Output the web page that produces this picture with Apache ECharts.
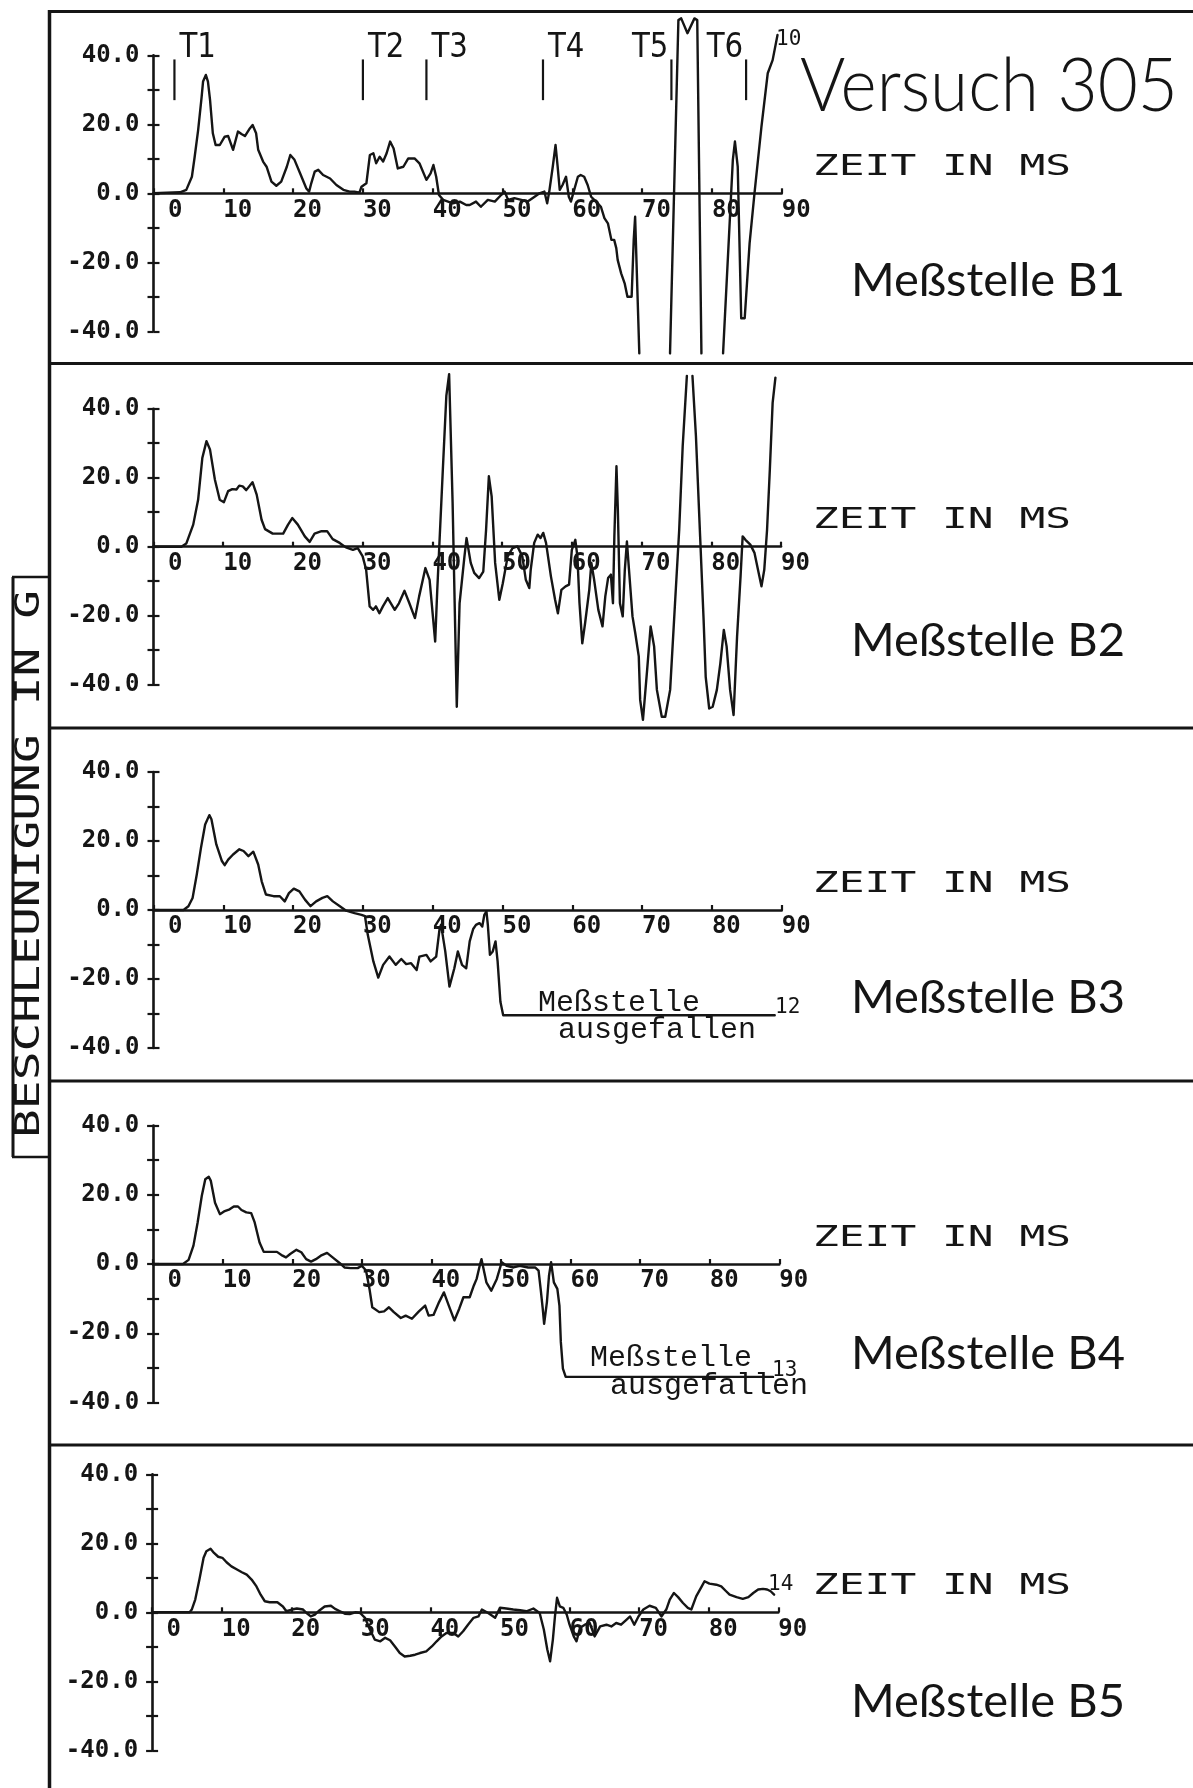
<!DOCTYPE html>
<html>
<head>
<meta charset="utf-8">
<title>Versuch 305 – Beschleunigung B1–B5</title>
<script src="https://cdn.jsdelivr.net/npm/echarts@6/dist/echarts.min.js"></script>
<style>
  html, body { margin: 0; padding: 0; background: #ffffff; }
  #chart { width: 1193px; height: 1788px; }
</style>
</head>
<body>
<div id="chart"></div>
<script>
// ---- axis ticks -------------------------------------------------------
const timeTicks = [0, 10, 20, 30, 40, 50, 60, 70, 80, 90];      // ms
const accelTicks = [-40, -20, 0, 20, 40];                        // g (labelled)

// ---- measuring points ------------------------------------------------
const stations = ['B1', 'B2', 'B3', 'B4', 'B5'];
const curveNumbers = ['10', '', '12', '13', '14'];
const failedStations = ['B3', 'B4'];

// ---- event marks on B1 -------------------------------------------------
const eventNames = ['T1', 'T2', 'T3', 'T4', 'T5', 'T6'];
const eventTimes = [3.0, 30.0, 39.1, 55.8, 74.2, 84.9];

// ---- traces: [time in ms, acceleration in g]; null = trace leaves the plot
const traceB1 = [
  [0,0],[3.8,0.3],[4.7,1.0],[5.5,4.8],[5.9,10.6],[6.4,18.4],[6.9,28.0],[7.1,32.4],[7.5,34.3],[7.8,32.4],
  [8.1,27.1],[8.5,17.4],[8.9,14.0],[9.5,14.0],[10.2,16.4],[10.7,16.6],[11.4,12.6],[12.1,17.9],[12.6,17.2],
  [13.1,16.6],[13.8,18.8],[14.2,19.8],[14.7,17.4],[15.0,12.6],[15.7,9.2],[16.2,7.7],[16.9,3.4],[17.6,2.2],
  [18.3,3.4],[19.1,7.7],[19.6,11.1],[20.2,9.7],[21.0,5.8],[21.9,1.4],[22.3,0.5],[22.6,2.9],[23.1,6.3],
  [23.6,6.8],[24.3,5.3],[25.3,4.3],[26.2,2.4],[27.2,1.0],[28.1,0.5],[28.8,0.5],[29.5,0.2],[29.8,1.9],
  [30.5,2.9],[31.0,11.1],[31.5,11.6],[31.9,8.7],[32.4,10.6],[32.9,9.2],[33.4,11.6],[33.9,15.0],[34.4,13.0],
  [35.0,7.2],[35.8,7.7],[36.5,10.1],[37.4,10.1],[38.1,8.7],[39.1,3.9],[39.7,5.8],[40.1,8.2],[40.5,4.8],
  [40.9,-0.5],[41.5,-1.9],[42.9,-2.9],[43.9,-2.4],[44.8,-3.4],[45.3,-3.4],[46.2,-2.4],[46.9,-3.9],[47.9,-1.9],
  [48.9,-2.4],[49.8,-0.5],[50.3,0.5],[50.8,-1.9],[51.7,-1.4],[52.7,-1.9],[53.6,-2.4],[54.6,-1.0],[55.3,0],
  [56.0,0.5],[56.4,-2.9],[56.7,0.5],[57.2,7.7],[57.6,14.0],[57.9,7.7],[58.2,1.0],[58.6,2.4],[59.1,4.8],
  [59.5,-1.0],[59.8,-2.4],[60.2,0.5],[60.4,1.0],[60.8,4.8],[61.2,5.3],[61.7,4.8],[62.2,2.4],[62.7,-1.0],
  [63.4,-2.4],[64.1,-3.9],[64.6,-7.2],[65.1,-8.7],[65.6,-13.5],[66.0,-13.5],[66.3,-15.9],[66.5,-19.3],
  [67.0,-23.2],[67.5,-26.1],[67.9,-30.0],[68.5,-30.0],[68.8,-13.5],[69.0,-6.8],[69.6,-46.4],[71.5,null],
  [74.0,-46.4],[75.2,50.2],[75.6,50.7],[76.5,46.4],[77.5,50.7],[77.9,50.2],[78.5,-46.4],[80.0,null],
  [81.6,-46.4],[83.0,9.7],[83.3,15.0],[83.7,7.7],[84.2,-36.2],[84.7,-36.2],[85.4,-14.5],[86.1,0],
  [87.1,19.3],[88.0,34.8],[88.7,38.6],[89.4,45.9]
];

const traceB2 = [
  [0,0],[4.0,0],[4.7,0.9],[5.7,6.4],[6.4,13.6],[7.0,25.7],[7.6,30.6],[8.1,28.2],[8.8,19.5],[9.5,13.6],
  [10.1,12.9],[10.7,16.1],[11.3,16.7],[11.9,16.6],[12.3,17.7],[12.8,17.5],[13.3,16.4],[14.2,18.7],[14.8,15.1],
  [15.5,7.8],[16.0,5.1],[17.1,3.8],[18.6,3.8],[19.3,6.4],[19.9,8.3],[20.7,6.4],[21.7,3.0],[22.4,1.4],
  [23.1,3.8],[24.1,4.5],[24.9,4.5],[25.7,2.2],[26.7,1.1],[27.6,-0.2],[28.6,-0.9],[29.3,-0.4],[30.0,-2.8],
  [30.5,-6.7],[31.0,-17.3],[31.5,-18.3],[31.9,-17.3],[32.4,-19.3],[32.9,-17.3],[33.6,-14.9],[34.6,-18.3],
  [35.2,-16.4],[36.0,-12.8],[36.7,-16.4],[37.5,-20.7],[38.1,-14.4],[39.0,-6.2],[39.6,-9.6],[40.4,-27.5],
  [40.7,-12.5],[41.5,22.4],[42.0,43.7],[42.4,50.0],[42.9,12.7],[43.5,-46.4],[43.9,-16.4],[44.6,-2.8],
  [44.9,2.5],[45.5,-4.7],[46.0,-7.6],[46.7,-9.1],[47.3,-7.2],[47.7,4.9],[48.1,20.4],[48.5,14.6],[49.0,-4.7],
  [49.6,-15.4],[50.1,-10.6],[50.8,-2.8],[51.5,-0.4],[52.2,0.1],[52.9,-2.8],[53.4,-9.6],[53.9,-12.0],
  [54.1,-6.7],[54.6,1.1],[55.1,3.5],[55.5,2.5],[55.9,4.0],[56.3,1.1],[57.0,-8.6],[57.6,-15.4],[58.0,-19.3],
  [58.5,-12.5],[59.1,-11.5],[59.6,-11.0],[60.0,-0.9],[60.5,2.0],[60.8,-2.8],[61.1,-16.4],[61.5,-28.0],
  [61.9,-22.2],[62.5,-12.5],[62.8,-4.7],[63.2,-9.6],[63.8,-18.3],[64.4,-23.1],[64.8,-14.4],[65.2,-9.1],
  [65.6,-8.1],[65.9,-16.4],[66.1,3.0],[66.4,23.3],[66.6,10.7],[66.9,-16.4],[67.3,-20.2],[67.6,-6.7],
  [67.9,1.5],[68.2,-6.7],[68.7,-20.2],[69.1,-25.1],[69.6,-31.8],[69.8,-44.4],[70.2,-50.2],[70.8,-35.7],
  [71.3,-23.1],[71.8,-28.9],[72.2,-41.5],[72.9,-49.3],[73.4,-49.3],[74.1,-41.5],[74.8,-16.4],[75.4,4.9],
  [75.9,29.1],[76.5,49.5],[76.9,null],[77.3,49.5],[77.8,32.0],[78.4,3.0],[78.9,-21.2],[79.2,-37.7],
  [79.7,-46.9],[80.2,-46.4],[80.8,-41.5],[81.3,-33.8],[81.8,-24.1],[82.2,-28.9],[82.7,-41.5],[83.2,-48.8],
  [83.7,-26.0],[84.2,-8.6],[84.5,3.0],[84.9,2.0],[85.6,0.6],[86.2,-1.8],[86.7,-6.7],[87.2,-11.5],
  [87.6,-6.7],[88.0,4.9],[88.4,22.4],[88.8,41.7],[89.2,49.0]
];

const traceB3 = [
  [0,0],[4.3,0],[5.0,1.1],[5.6,3.5],[6.2,10.3],[6.8,18.0],[7.4,24.8],[8.0,27.5],[8.3,26.3],[9.0,19.0],
  [9.8,14.2],[10.2,13.0],[10.7,14.6],[11.4,16.1],[12.3,17.6],[12.9,17.1],[13.6,15.6],[14.3,16.9],[15.0,13.2],
  [15.5,8.3],[16.1,4.5],[17.2,4.0],[18.1,4.0],[18.8,2.5],[19.4,4.9],[20.1,6.2],[20.9,5.4],[21.7,3.0],
  [22.5,1.1],[23.3,2.5],[24.2,3.5],[24.9,4.0],[25.7,2.5],[26.7,1.1],[27.6,-0.2],[28.8,-0.9],[29.8,-1.4],
  [30.3,-1.8],[30.7,-7.2],[31.5,-14.9],[32.2,-19.6],[32.9,-15.9],[33.8,-13.5],[34.7,-15.9],[35.5,-14.2],
  [36.2,-15.7],[36.9,-15.4],[37.7,-17.4],[38.1,-13.5],[39.1,-13.0],[39.7,-14.9],[40.5,-13.5],[41.0,-5.2],
  [41.2,-4.3],[41.8,-12.0],[42.4,-22.2],[43.1,-16.9],[43.6,-12.0],[44.2,-15.9],[44.8,-16.9],[45.3,-9.1],
  [45.8,-5.5],[46.2,-4.3],[46.7,-3.8],[47.1,-4.8],[47.4,-1.4],[47.7,-0.4],[47.9,-4.3],[48.2,-13.0],
  [48.6,-12.0],[49.0,-9.1],[49.3,-14.9],[49.7,-26.6],[50.1,-30.5],[89.0,-30.5]
];

const traceB4 = [
  [0,0],[4.3,0],[5.1,1.2],[5.8,5.3],[6.4,12.0],[7.0,19.7],[7.5,24.5],[8.0,25.2],[8.3,24.0],[8.9,17.7],
  [9.6,14.4],[10.3,15.3],[11.0,15.8],[11.6,16.6],[12.2,16.6],[12.7,15.6],[13.4,14.9],[14.1,14.7],[14.6,12.0],
  [15.3,6.2],[15.9,3.5],[16.8,3.5],[17.8,3.5],[18.6,2.4],[19.1,1.9],[19.7,2.9],[20.6,4.1],[21.3,3.4],
  [22.0,1.4],[22.7,0.7],[23.4,1.4],[24.1,2.4],[25.0,3.2],[25.8,1.9],[26.8,0.3],[27.5,-1.0],[28.4,-1.2],
  [29.4,-1.2],[30.0,-0.5],[30.6,-1.9],[31.1,-7.2],[31.5,-12.5],[32.5,-13.9],[33.2,-13.7],[33.9,-12.5],
  [34.6,-13.9],[35.6,-15.6],[36.3,-14.9],[37.2,-15.8],[38.2,-13.7],[39.1,-12.0],[39.6,-14.9],[40.3,-14.7],
  [41.1,-11.0],[41.8,-8.2],[42.5,-12.0],[43.3,-16.3],[44.0,-12.9],[44.6,-9.6],[45.5,-9.6],[46.1,-6.2],
  [46.5,-4.3],[47.0,0],[47.2,1.4],[47.9,-5.3],[48.6,-7.7],[49.4,-4.3],[50.1,0.5],[50.8,-0.5],[51.8,-1.0],
  [52.7,-0.5],[53.9,-1.0],[54.9,-1.0],[55.4,-1.9],[55.7,-7.2],[56.0,-12.9],[56.2,-17.3],[56.6,-11.0],
  [56.9,-3.4],[57.2,0.5],[57.6,-5.3],[58.1,-7.2],[58.4,-12.0],[58.6,-22.5],[58.9,-30.2],[59.3,-32.6],
  [89.1,-32.6]
];

const traceB5 = [
  [0,0],[5.4,0],[5.7,0.8],[6.2,3.7],[6.8,9.5],[7.4,15.8],[7.8,17.7],[8.4,18.4],[8.9,17.2],[9.5,16.1],
  [10.1,15.8],[10.7,14.5],[11.4,13.3],[12.2,12.4],[12.9,11.6],[13.6,10.9],[14.3,9.5],[15.0,7.5],[15.6,5.1],
  [16.2,3.2],[16.9,2.9],[18.0,2.9],[18.8,1.7],[19.3,0.3],[20.1,0.8],[20.8,1.1],[21.7,0.8],[22.2,-0.2],
  [22.8,-1.2],[23.4,-0.7],[23.9,0.3],[24.8,1.7],[25.7,1.9],[26.3,1.0],[27.0,0.3],[27.7,-0.4],[28.4,-0.5],
  [29.2,0],[29.9,-0.2],[30.6,-1.6],[31.3,-5.0],[32.0,-7.9],[32.8,-8.4],[33.5,-7.4],[34.2,-8.1],[34.9,-9.9],
  [35.6,-11.8],[36.3,-12.8],[37.1,-12.6],[37.8,-12.3],[38.5,-11.8],[39.4,-11.3],[40.2,-9.9],[40.9,-8.4],
  [41.6,-7.0],[42.3,-6.0],[43.3,-6.0],[44.0,-7.0],[44.7,-5.5],[45.4,-3.6],[46.2,-1.6],[46.9,-1.2],
  [47.4,0.8],[48.3,-0.2],[49.3,-1.6],[50.0,1.3],[50.9,1.1],[51.9,0.8],[52.9,0.6],[53.8,0.3],[54.8,1.1],
  [55.7,-0.2],[56.3,-5.0],[56.8,-10.8],[57.2,-14.2],[57.6,-7.9],[57.9,-1.2],[58.2,4.2],[58.6,1.7],
  [59.1,1.3],[59.6,-0.7],[60.0,-3.6],[60.6,-7.0],[61.0,-8.4],[61.5,-4.5],[62.2,-3.6],[62.9,-3.1],
  [63.6,-7.0],[64.4,-4.1],[65.3,-3.6],[66.0,-4.1],[66.7,-3.1],[67.4,-3.6],[68.2,-2.1],[68.7,-1.2],
  [69.3,-3.6],[69.9,-1.2],[70.6,0.8],[71.5,1.9],[72.4,1.3],[73.2,-1.2],[73.9,0.8],[74.4,3.7],[75.0,5.6],
  [75.6,4.4],[76.3,2.7],[77.0,1.3],[77.5,0.8],[78.2,4.6],[79.0,7.5],[79.4,9.0],[80.1,8.3],[81.1,8.0],
  [81.8,7.5],[82.5,6.1],[83.0,5.1],[84.0,4.4],[84.9,3.9],[85.7,4.4],[86.4,5.6],[87.1,6.6],[87.8,6.8],
  [88.4,6.6],[88.9,6.1],[89.4,5.1]
];

const traces = [traceB1, traceB2, traceB3, traceB4, traceB5];

// ---- page layout ------------------------------------------------------
const INK = '#151515';
const panels = [
  { left: 153.5, top: 55.3,   width: 628.2, height: 276, zeitY: 167,  nameY: 281 },
  { left: 153.5, top: 408.7,  width: 627.5, height: 276, zeitY: 520,  nameY: 641 },
  { left: 153.5, top: 772,    width: 628.2, height: 276, zeitY: 884,  nameY: 998 },
  { left: 153.1, top: 1125.5, width: 626.2, height: 277, zeitY: 1238, nameY: 1354 },
  { left: 152.1, top: 1474.3, width: 626.2, height: 276, zeitY: 1586, nameY: 1702 }
];
const separators = [11.5, 363.5, 728, 1081, 1445];

// text-width helper, used to stretch the plotter lettering to its pitch
const measureCtx = document.createElement('canvas').getContext('2d');
function stretch(text, font, target) {
  measureCtx.font = font;
  return target / measureCtx.measureText(text).width;
}

const tickFont = { fontFamily: 'DejaVu Sans Mono', fontSize: 24, fontWeight: 'bold', color: INK };

const grid = [], xAxis = [], yAxis = [], series = [];
panels.forEach((p, i) => {
  grid.push({ left: p.left, top: p.top, width: p.width, height: p.height });
  // the time axis runs through g = 0, i.e. half the (symmetric) plot height above the bottom edge
  xAxis.push({
    gridIndex: i, type: 'value', min: timeTicks[0], max: timeTicks[timeTicks.length - 1], interval: 10,
    position: 'bottom', offset: -p.height / 2,
    axisLine: { show: true, onZero: false, lineStyle: { color: INK, width: 2.6 } },
    axisTick: { show: true, inside: true, length: 5, lineStyle: { color: INK, width: 2.2 } },
    axisLabel: Object.assign({
      show: true, margin: 5, align: 'left', showMinLabel: true, showMaxLabel: true,
      formatter: v => timeTicks.includes(v) ? (v < 10 ? ' ' + v : String(v)) : ''
    }, tickFont),
    splitLine: { show: false }
  });
  // labelled axis, ticks on the outside
  yAxis.push({
    gridIndex: i, type: 'value', min: -40, max: 40, interval: 10, position: 'left',
    axisLine: { show: true, onZero: false, lineStyle: { color: INK, width: 2.6 } },
    axisTick: { show: true, inside: false, length: 6, lineStyle: { color: INK, width: 2.2 } },
    axisLabel: Object.assign({
      show: true, margin: 14,
      formatter: v => accelTicks.includes(v) ? v.toFixed(1) : ''
    }, tickFont),
    splitLine: { show: false }
  });
  // companion axis: the inner half of each tick
  yAxis.push({
    gridIndex: i, type: 'value', min: -40, max: 40, interval: 10, position: 'left',
    axisLine: { show: false, onZero: false },
    axisTick: { show: true, inside: true, length: 6, lineStyle: { color: INK, width: 2.2 } },
    axisLabel: { show: false },
    splitLine: { show: false }
  });
  series.push({
    type: 'line', name: 'Meßstelle ' + stations[i], xAxisIndex: i, yAxisIndex: 2 * i,
    data: traces[i], showSymbol: false, symbol: 'none', clip: false, connectNulls: false,
    lineStyle: { color: INK, width: 2.4, join: 'round', cap: 'round' },
    animation: false, silent: true
  });
});

// event marks T1..T6 above the B1 trace
const leftLabelled = { T5: true, T6: true };
series.push({
  type: 'custom', xAxisIndex: 0, yAxisIndex: 0, clip: false, silent: true, animation: false,
  data: eventTimes.map((t, k) => [t, k]),
  renderItem: (params, api) => {
    const t = api.value(0), name = eventNames[api.value(1)];
    const top = api.coord([t, 38.8]);
    const bot = api.coord([t, 27]);
    const onLeft = !!leftLabelled[name];
    return {
      type: 'group',
      children: [
        { type: 'line', shape: { x1: top[0], y1: top[1], x2: bot[0], y2: bot[1] },
          style: { stroke: INK, lineWidth: 2.2 } },
        { type: 'text', x: top[0] + (onLeft ? -3 : 5), y: top[1] + 6, scaleX: 0.86,
          style: { text: name, font: '34px "DejaVu Sans"', fill: INK,
                   textAlign: onLeft ? 'right' : 'left', textVerticalAlign: 'bottom' } }
      ]
    };
  }
});

// ---- frame, captions and annotations ------------------------------------
const graphic = [];
const ln = (x1, y1, x2, y2, w) => graphic.push({
  type: 'line', silent: true, shape: { x1, y1, x2, y2 }, style: { stroke: INK, lineWidth: w }
});
ln(49.5, 10, 49.5, 1788, 3.5);
separators.forEach(y => ln(48, y, 1193, y, 3));
// box around the vertical axis title
ln(13, 577, 13, 1157, 3);
ln(12, 577, 50, 577, 2.5);
ln(12, 1157, 50, 1157, 2.5);

const text = (str, x, y, font, opts) => graphic.push(Object.assign({
  type: 'text', x, y, silent: true,
  style: { text: str, font, fill: INK, textAlign: 'left', textVerticalAlign: 'middle' }
}, opts || {}));

const yTitle = 'BESCHLEUNIGUNG IN G';
const yTitleFont = '33px "DejaVu Sans Mono"';
graphic.push({
  type: 'text', x: 30, y: 864, rotation: Math.PI / 2, silent: true,
  scaleX: stretch(yTitle, yTitleFont, 548),
  style: { text: yTitle, font: yTitleFont, fill: INK, textAlign: 'center', textVerticalAlign: 'middle' }
});

const titleFont = '300 75px Lato';
text('Versuch 305', 800, 87, titleFont, { scaleX: stretch('Versuch 305', titleFont, 378) });

const zeit = 'ZEIT IN MS';
const zeitFont = '29px "DejaVu Sans Mono"';
const zeitScale = stretch(zeit, zeitFont, 258);
const nameFont = '400 47px Lato';
const nameScale = stretch('Meßstelle ' + stations[0], nameFont, 274);
panels.forEach((p, i) => {
  text(zeit, 813, p.zeitY, zeitFont, { scaleX: zeitScale });
  text('Meßstelle ' + stations[i], 851, p.nameY, nameFont, { scaleX: nameScale });
});

// curve numbers at the end of each trace
const numberPos = [[776, 40], null, [775, 1008], [772, 1371], [768, 1585]];
curveNumbers.forEach((n, i) => {
  if (n && numberPos[i]) text(n, numberPos[i][0], numberPos[i][1], '21px "DejaVu Sans Mono"');
});

// typed notes on the failed measuring points
const notePos = { B3: [538, 1003, 558, 1030], B4: [590, 1358, 610, 1386] };
failedStations.forEach(s => {
  const q = notePos[s];
  text('Meßstelle', q[0], q[1], '30px "Liberation Mono"');
  text('ausgefallen', q[2], q[3], '30px "Liberation Mono"');
});

const chart = echarts.init(document.getElementById('chart'), null, { renderer: 'canvas', width: 1193, height: 1788 });
chart.setOption({
  backgroundColor: '#ffffff',
  animation: false,
  grid, xAxis, yAxis, series, graphic
});
</script>
</body>
</html>
